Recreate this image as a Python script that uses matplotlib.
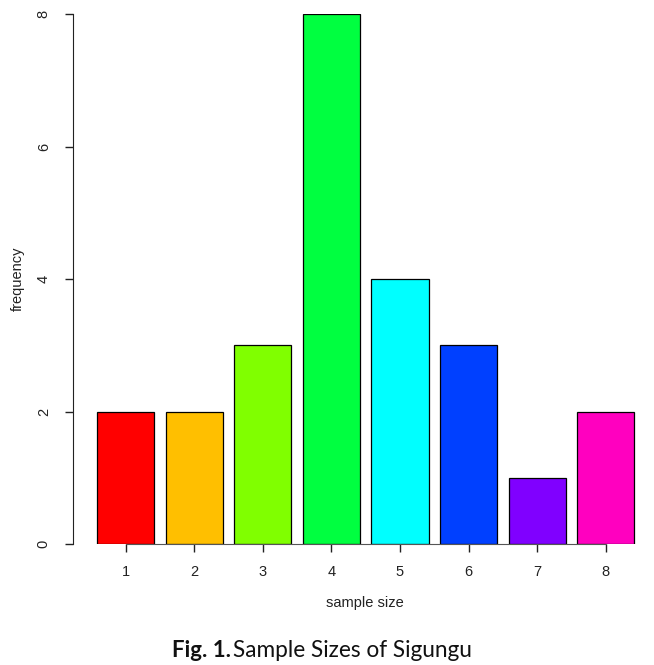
import numpy as np
import matplotlib.pyplot as plt

# sample size categories and how often each shows up
sizes = ['1', '2', '3', '4', '5', '6', '7', '8']
freq = [2, 2, 3, 8, 4, 3, 1, 2]
# R's rainbow(8)
colors = ['#FF0000', '#FFBF00', '#80FF00', '#00FF40',
          '#00FFFF', '#0040FF', '#8000FF', '#FF00BF']
yticks = [0, 2, 4, 6, 8]

W, H = 654, 665
fig = plt.figure(figsize=(W / 100, H / 100), dpi=100)
# axes box in pixels: left 73, right 640, top 14, bottom 544
ax = fig.add_axes([73 / W, 1 - 544 / H, (640 - 73) / W, (544 - 14) / H])

# barplot layout like R: width 1, space 0.2
centers = 0.7 + 1.2 * np.arange(len(freq))
ax.bar(centers, freq, width=1.0, color=colors, edgecolor='black', linewidth=0.9)

ax.set_xlim(-0.22, 9.70)
ax.set_ylim(0, 8)

for s in ['top', 'right']:
    ax.spines[s].set_visible(False)
ax.spines['left'].set_bounds(0, 8)
ax.spines['bottom'].set_bounds(centers[0], centers[-1])
ax.spines['left'].set_color('#222222')
ax.spines['bottom'].set_color('#555555')

ax.set_xticks(centers)
ax.set_xticklabels(sizes, fontsize=10.5, color='#222222', family='Liberation Sans')
ax.set_yticks(yticks)
ax.set_yticklabels([str(v) for v in yticks], rotation=90, va='center',
                   fontsize=10.5, color='#222222', family='Liberation Sans')
ax.tick_params(axis='both', length=6, width=1, color='#222222')
ax.tick_params(axis='x', pad=9)
ax.tick_params(axis='y', pad=10)

fig.text(18 / W, 1 - 279 / H, 'frequency', rotation=90, ha='center', va='center',
         fontsize=10.5, color='#222222', family='Liberation Sans')
fig.text(365 / W, 1 - 603 / H, 'sample size', ha='center', va='center',
         fontsize=10.5, color='#222222', family='Liberation Sans')

# caption under the chart
fig.text(172 / W, 1 - 657 / H, 'Fig. 1.', ha='left', va='baseline',
         fontsize=16, fontweight='bold', family='Lato', color='#111111')
fig.text(233 / W, 1 - 657 / H, 'Sample Sizes of Sigungu', ha='left', va='baseline',
         fontsize=16.3, family='Lato', color='#111111')

fig.savefig('out.png', dpi=100)
